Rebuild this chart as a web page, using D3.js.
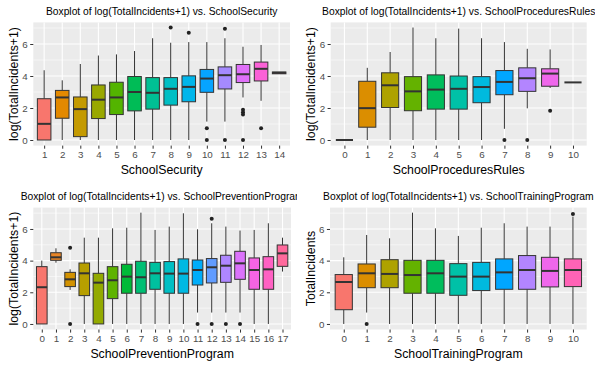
<!DOCTYPE html>
<html>
<head>
<meta charset="utf-8">
<script src="https://cdn.jsdelivr.net/npm/d3@7"></script>
<style>
  body { margin: 0; background: #fff; }
  text { font-family: "Liberation Sans", Arial, sans-serif; }
  .tick text { fill: #4D4D4D; font-size: 9.8px; }
  .tick line { stroke: #333333; }
  .axis-title { font-size: 12.3px; fill: #000; }
  .plot-title { font-size: 10.3px; fill: #000; }
</style>
</head>
<body>
<div id="chart"></div>
<script>
// DATA: box stats per level = [lower whisker, Q1, median, Q3, upper whisker]
const securityLevels = ["1","2","3","4","5","6","7","8","9","10","11","12","13","14"];
const securityStats = [
  [0, 0, 1.01, 2.58, 4.36],
  [0, 1.36, 2.66, 3.10, 3.73],
  [0, 0.21, 1.93, 2.69, 4.75],
  [0, 1.34, 2.52, 3.44, 5.28],
  [0, 1.59, 2.66, 3.61, 5.35],
  [0, 1.82, 3.00, 3.97, 5.56],
  [0, 1.93, 2.95, 3.90, 6.36],
  [0, 2.18, 3.20, 3.90, 6.08],
  [0, 2.39, 3.32, 4.01, 6.12],
  [1.15, 2.98, 3.84, 4.41, 6.12],
  [1.15, 3.19, 4.05, 4.57, 6.36],
  [2.66, 3.59, 4.11, 4.72, 5.83],
  [2.45, 3.69, 4.45, 4.87, 5.94],
  [4.14, 4.14, 4.20, 4.25, 4.25]
];
const securityOutliers = [[], [], [], [], [], [], [], [7.03], [6.71], [0.73, 0], [6.95, 0], [1.89, 1.74, 1.6, 0], [0.73], []];

const proceduresLevels = ["0","1","2","3","4","5","6","7","8","9","10"];
const proceduresStats = [
  [0, 0, 0, 0, 0],
  [0, 0.80, 1.99, 3.67, 4.51],
  [0, 2.03, 3.42, 4.20, 5.50],
  [0, 1.83, 3.04, 3.96, 7.03],
  [0, 1.93, 3.15, 4.07, 6.36],
  [0, 1.93, 3.20, 4.00, 6.96],
  [0, 2.33, 3.31, 3.96, 6.36],
  [0.70, 2.83, 3.63, 4.34, 6.12],
  [1.98, 3.04, 3.86, 4.51, 5.70],
  [3.25, 3.36, 4.15, 4.45, 5.66],
  [3.60, 3.60, 3.60, 3.60, 3.60]
];
const proceduresOutliers = [[], [], [], [], [], [], [], [0], [0], [1.83], []];

const preventionLevels = ["0","1","2","3","4","5","6","7","8","9","10","11","12","13","14","15","16","17"];
const preventionStats = [
  [0, 0, 2.32, 3.62, 4.00],
  [3.87, 4.02, 4.21, 4.50, 4.78],
  [2.15, 2.36, 2.82, 3.26, 3.45],
  [0, 1.79, 3.20, 3.85, 5.45],
  [0, 0, 2.61, 3.20, 5.45],
  [0, 1.60, 2.76, 3.62, 6.04],
  [0, 1.94, 2.99, 3.77, 6.08],
  [0, 1.94, 2.95, 3.96, 7.03],
  [0, 2.19, 3.20, 3.89, 5.94],
  [0, 1.94, 3.18, 3.94, 6.15],
  [0, 1.94, 3.18, 4.11, 6.99],
  [0.72, 2.46, 3.41, 4.04, 5.98],
  [0.72, 2.59, 3.58, 4.13, 6.36],
  [0.72, 2.63, 3.68, 4.34, 6.15],
  [0.72, 2.82, 3.83, 4.59, 5.90],
  [0, 2.19, 3.41, 4.17, 5.94],
  [0, 2.19, 3.45, 4.25, 6.36],
  [3.31, 3.64, 4.46, 4.99, 5.45]
];
const preventionOutliers = [[], [], [4.82, 0], [], [], [], [], [], [], [], [], [0], [6.65, 0], [0], [0], [], [], []];

const trainingLevels = ["0","1","2","3","4","5","6","7","8","9","10"];
const trainingStats = [
  [0, 0.90, 2.65, 3.12, 4.21],
  [0.72, 2.29, 3.20, 3.79, 5.62],
  [0, 2.29, 3.16, 4.06, 5.41],
  [0, 1.94, 3.09, 4.02, 7.03],
  [0, 1.94, 3.20, 4.02, 6.04],
  [0, 1.81, 2.99, 3.81, 5.56],
  [0, 2.11, 2.99, 3.89, 6.08],
  [0, 2.19, 3.26, 4.11, 6.36],
  [0, 2.19, 3.41, 4.32, 6.15],
  [0, 2.34, 3.35, 4.21, 6.15],
  [0, 2.36, 3.41, 4.11, 6.78]
];
const trainingOutliers = [[], [0], [], [], [], [], [], [], [], [], [6.95]];

const yTicks = [0, 2, 4, 6];
const yMinor = [1, 3, 5, 7];

// svg container size
const width = 602;
const height = 366;

// panel layouts
const panels = [
  {levels: securityLevels, stats: securityStats, outliers: securityOutliers,
   title: "Boxplot of log(TotalIncidents+1) vs. SchoolSecurity",
   xTitle: "SchoolSecurity", yTitle: "log(TotalIncidents+1)",
   left: 33.3, right: 290, top: 22.4, bottom: 145.6, clipX: 0, clipW: 297},
  {levels: proceduresLevels, stats: proceduresStats, outliers: proceduresOutliers,
   title: "Boxplot of log(TotalIncidents+1) vs. SchoolProceduresRules",
   xTitle: "SchoolProceduresRules", yTitle: "log(TotalIncidents+1)",
   left: 330.7, right: 586.7, top: 22.4, bottom: 145.6, clipX: 300, clipW: 295},
  {levels: preventionLevels, stats: preventionStats, outliers: preventionOutliers,
   title: "Boxplot of log(TotalIncidents+1) vs. SchoolPreventionProgram",
   xTitle: "SchoolPreventionProgram", yTitle: "log(TotalIncidents+1)",
   left: 33.3, right: 291, top: 207.6, bottom: 329.5, clipX: 0, clipW: 297},
  {levels: trainingLevels, stats: trainingStats, outliers: trainingOutliers,
   title: "Boxplot of log(TotalIncidents+1) vs. SchoolTrainingProgram",
   xTitle: "SchoolTrainingProgram", yTitle: "TotalIncidents",
   left: 330, right: 586.7, top: 207.6, bottom: 329.5, clipX: 300, clipW: 295}
];

// ggplot hue palette (polar LUV -> sRGB)
function polarLuv(L, C, H) {
  const h = H * Math.PI / 180;
  const u = C * Math.cos(h), v = C * Math.sin(h);
  const Xn = 95.047, Yn = 100, Zn = 108.883;
  const den = Xn + 15 * Yn + 3 * Zn;
  const un = 4 * Xn / den, vn = 9 * Yn / den;
  const Y = L > 8 ? Yn * Math.pow((L + 16) / 116, 3) : Yn * L / 903.3;
  const up = u / (13 * L) + un, vp = v / (13 * L) + vn;
  const X = 9 * Y * up / (4 * vp);
  const Z = -X / 3 - 5 * Y + 3 * Y / vp;
  const x = X / 100, y = Y / 100, z = Z / 100;
  const lin = [
    3.2404542 * x - 1.5371385 * y - 0.4985314 * z,
    -0.9692660 * x + 1.8760108 * y + 0.0415560 * z,
    0.0556434 * x - 0.2040259 * y + 1.0572252 * z
  ];
  const g = lin.map(c => {
    const s = c <= 0.0031308 ? 12.92 * c : 1.055 * Math.pow(c, 1 / 2.4) - 0.055;
    return Math.round(Math.max(0, Math.min(1, s)) * 255);
  });
  return d3.rgb(g[0], g[1], g[2]).formatHex();
}

function huePal(n) {
  return d3.range(n).map(i => polarLuv(65, 100, 15 + 360 * i / n));
}

const svg = d3.select("#chart").append("svg")
  .attr("width", width)
  .attr("height", height);

function drawPanel(p, i) {
  const clipId = "clip" + i;
  svg.append("clipPath").attr("id", clipId)
    .append("rect")
    .attr("x", p.clipX).attr("y", 0)
    .attr("width", p.clipW).attr("height", height);

  const g = svg.append("g").attr("clip-path", `url(#${clipId})`);

  const x = d3.scalePoint()
    .domain(p.levels)
    .range([p.left, p.right])
    .padding(0.6);
  const y = d3.scaleLinear()
    .domain([-0.35, 7.35])
    .range([p.bottom, p.top]);
  const colors = huePal(p.levels.length);
  const boxW = x.step() * 0.75;

  // panel background
  g.append("rect")
    .attr("x", p.left).attr("y", p.top)
    .attr("width", p.right - p.left).attr("height", p.bottom - p.top)
    .attr("fill", "#EBEBEB");

  // grid
  g.selectAll(".minor")
    .data(yMinor)
    .enter().append("line")
    .attr("x1", p.left).attr("x2", p.right)
    .attr("y1", d => y(d)).attr("y2", d => y(d))
    .attr("stroke", "#fff").attr("stroke-width", 0.55);
  g.selectAll(".major")
    .data(yTicks)
    .enter().append("line")
    .attr("x1", p.left).attr("x2", p.right)
    .attr("y1", d => y(d)).attr("y2", d => y(d))
    .attr("stroke", "#fff").attr("stroke-width", 1.1);
  g.selectAll(".vgrid")
    .data(p.levels)
    .enter().append("line")
    .attr("x1", d => x(d)).attr("x2", d => x(d))
    .attr("y1", p.top).attr("y2", p.bottom)
    .attr("stroke", "#fff").attr("stroke-width", 1.1);

  // boxes
  const rows = p.levels.map((lv, j) => ({level: lv, s: p.stats[j], out: p.outliers[j], color: colors[j]}));
  const box = g.selectAll(".box")
    .data(rows)
    .enter().append("g");

  box.append("line")
    .attr("x1", d => x(d.level)).attr("x2", d => x(d.level))
    .attr("y1", d => y(d.s[4])).attr("y2", d => y(d.s[3]))
    .attr("stroke", "#333333").attr("stroke-width", 1);
  box.append("line")
    .attr("x1", d => x(d.level)).attr("x2", d => x(d.level))
    .attr("y1", d => y(d.s[1])).attr("y2", d => y(d.s[0]))
    .attr("stroke", "#333333").attr("stroke-width", 1);
  box.append("rect")
    .attr("x", d => x(d.level) - boxW / 2)
    .attr("width", boxW)
    .attr("y", d => y(d.s[3]))
    .attr("height", d => y(d.s[1]) - y(d.s[3]))
    .attr("fill", d => d.color)
    .attr("stroke", "#333333").attr("stroke-width", 1);
  box.append("line")
    .attr("x1", d => x(d.level) - boxW / 2).attr("x2", d => x(d.level) + boxW / 2)
    .attr("y1", d => y(d.s[2])).attr("y2", d => y(d.s[2]))
    .attr("stroke", "#333333").attr("stroke-width", 2);
  box.selectAll("circle")
    .data(d => d.out.map(v => ({level: d.level, v: v})))
    .enter().append("circle")
    .attr("cx", d => x(d.level))
    .attr("cy", d => y(d.v))
    .attr("r", 2)
    .attr("fill", "#222");

  // axes
  const leftAxis = d3.axisLeft(y).tickValues(yTicks).tickSize(3.1).tickPadding(2.5);
  const yAxis = g.append("g")
    .attr("transform", `translate(${p.left}, 0)`)
    .call(leftAxis);
  yAxis.select(".domain").remove();

  const bottomAxis = d3.axisBottom(x).tickSize(3.1).tickPadding(2.2);
  const xAxis = g.append("g")
    .attr("transform", `translate(0, ${p.bottom})`)
    .call(bottomAxis);
  xAxis.select(".domain").remove();
  g.selectAll(".tick text").attr("font-family", null).attr("font-size", null);

  // labels
  g.append("text")
    .attr("class", "plot-title")
    .attr("x", (p.left + p.right) / 2)
    .attr("y", p.top - 7.6)
    .attr("text-anchor", "middle")
    .text(p.title);
  g.append("text")
    .attr("class", "axis-title")
    .attr("x", (p.left + p.right) / 2)
    .attr("y", p.bottom + 28.8)
    .attr("text-anchor", "middle")
    .text(p.xTitle);
  g.append("text")
    .attr("class", "axis-title")
    .attr("transform", `translate(${p.left - 15.5}, ${(p.top + p.bottom) / 2}) rotate(-90)`)
    .attr("text-anchor", "middle")
    .text(p.yTitle);
}

panels.forEach(drawPanel);
</script>
</body>
</html>
